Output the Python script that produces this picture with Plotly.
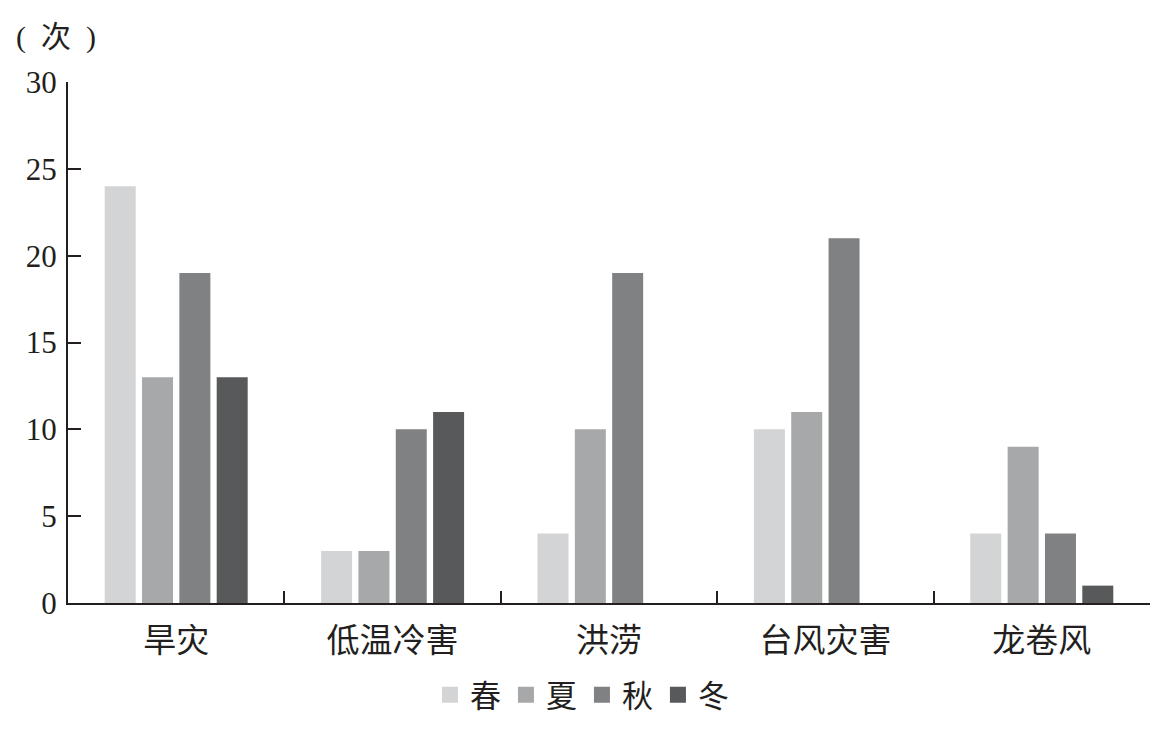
import plotly.graph_objects as go

categories = ["旱灾", "低温冷害", "洪涝", "台风灾害", "龙卷风"]
seasons = ["春", "夏", "秋", "冬"]
spring = [24, 3, 4, 10, 4]
summer = [13, 3, 10, 11, 9]
autumn = [19, 10, 19, 21, 4]
winter = [13, 11, 0, 0, 1]
colors = ["#d3d4d6", "#a7a8aa", "#808183", "#58595b"]

FONT = "Liberation Serif, Noto Sans CJK SC, serif"
INK = "#231f20"

fig = go.Figure()
for name, vals, c in zip(seasons, [spring, summer, autumn, winter], colors):
    fig.add_trace(go.Bar(x=categories, y=vals, name=name, showlegend=False,
                         marker=dict(color=c, line=dict(width=0))))
# legend entries with larger square symbols
for name, c in zip(seasons, colors):
    fig.add_trace(go.Scatter(x=[None], y=[None], mode="markers", name=name,
                             marker=dict(symbol="square", size=16, color=c)))

fig.update_layout(
    width=1163, height=736,
    barmode="group", bargap=0.31, bargroupgap=0.17,
    plot_bgcolor="white", paper_bgcolor="white",
    margin=dict(l=60, r=21, t=74, b=141),
    font=dict(family=FONT, size=30, color=INK),
    showlegend=True,
    legend=dict(orientation="h", x=0.475, xanchor="center", y=-0.177, yanchor="middle",
                font=dict(size=31, family=FONT), itemwidth=30, traceorder="normal",
                itemsizing="trace"),
    annotations=[dict(text="(  次  )", x=0, y=1, xref="paper", yref="paper",
                      xanchor="left", yanchor="middle", xshift=-54, yshift=45,
                      showarrow=False, font=dict(size=30, family=FONT))],
)
fig.update_yaxes(range=[0, 30], tickvals=[0, 5, 10, 15, 20, 25, 30], showgrid=False,
                 showline=True, linecolor=INK, linewidth=2, automargin=False,
                 ticks="inside", ticklen=13, tickwidth=2, tickcolor=INK,
                 zeroline=False, tickfont=dict(size=31, family=FONT), ticklabelstandoff=3)
fig.update_xaxes(showgrid=False, showline=True, linecolor=INK, linewidth=2, automargin=False,
                 ticks="inside", tickson="boundaries", ticklen=12, tickwidth=2,
                 tickcolor=INK, tickfont=dict(size=33, family=FONT), ticklabelstandoff=7)

fig.write_html("out.html")
